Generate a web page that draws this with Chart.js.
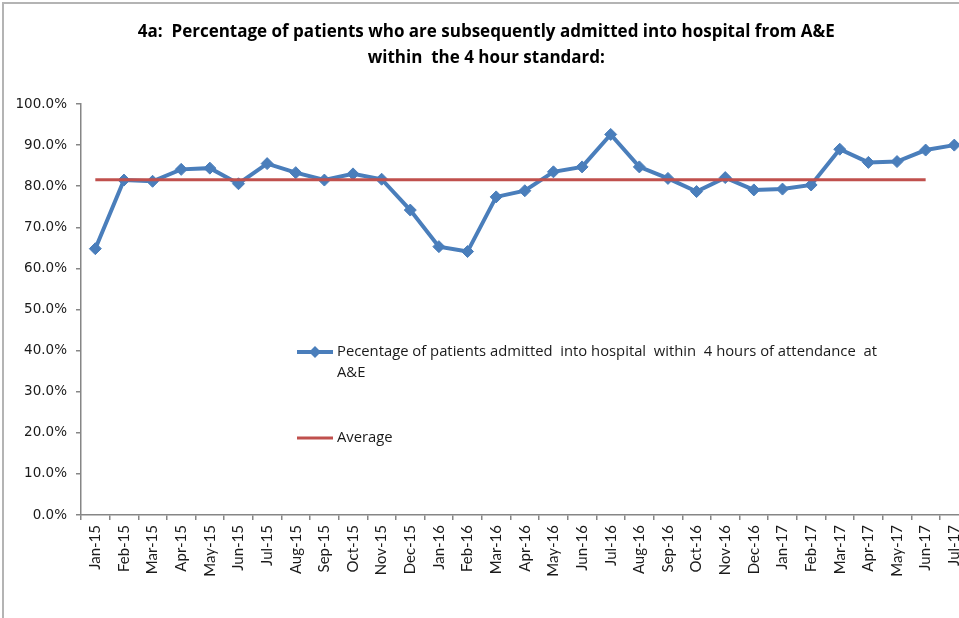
<!DOCTYPE html>
<html lang="en">
<head>
    <meta charset="UTF-8">
    <title>4a: Percentage of patients admitted within 4 hours</title>
    <script src="https://cdn.jsdelivr.net/npm/chart.js"></script>
    <style>
        html, body {
            margin: 0;
            padding: 0;
            background: #ffffff;
            overflow: hidden;
        }
        /* chart frame, wider than the window so the right edge is cut like the source */
        .frame {
            position: absolute;
            left: 2px;
            top: 2px;
            width: 975px;
            height: 700px;
            border: 2px solid #b4b4b4;
        }
        .chart-box {
            position: absolute;
            left: 0;
            top: 0;
            width: 980px;
            height: 618px;
        }
    </style>
</head>
<body>
    <div class="frame"></div>
    <div class="chart-box">
        <canvas id="admitChart"></canvas>
    </div>

    <script>
        // --- data ---
        const months = [
            'Jan-15', 'Feb-15', 'Mar-15', 'Apr-15', 'May-15', 'Jun-15', 'Jul-15', 'Aug-15',
            'Sep-15', 'Oct-15', 'Nov-15', 'Dec-15', 'Jan-16', 'Feb-16', 'Mar-16', 'Apr-16',
            'May-16', 'Jun-16', 'Jul-16', 'Aug-16', 'Sep-16', 'Oct-16', 'Nov-16', 'Dec-16',
            'Jan-17', 'Feb-17', 'Mar-17', 'Apr-17', 'May-17', 'Jun-17', 'Jul-17'
        ];

        const admittedPct = [
            64.8, 81.5, 81.2, 84.1, 84.4, 80.6, 85.5, 83.3,
            81.5, 83.0, 81.7, 74.2, 65.3, 64.1, 77.4, 78.9,
            83.5, 84.7, 92.6, 84.7, 81.9, 78.7, 82.1, 79.1,
            79.3, 80.3, 89.0, 85.8, 86.0, 88.8, 90.0
        ];

        // average line stops at Jun-17
        const averagePct = [
            81.6, 81.6, 81.6, 81.6, 81.6, 81.6, 81.6, 81.6,
            81.6, 81.6, 81.6, 81.6, 81.6, 81.6, 81.6, 81.6,
            81.6, 81.6, 81.6, 81.6, 81.6, 81.6, 81.6, 81.6,
            81.6, 81.6, 81.6, 81.6, 81.6, 81.6, null
        ];

        const yTicks = [0, 10, 20, 30, 40, 50, 60, 70, 80, 90, 100];

        const titleLines = [
            '4a:  Percentage of patients who are subsequently admitted into hospital from A&E',
            'within  the 4 hour standard:'
        ];
        const admittedLegend = [
            'Pecentage of patients admitted  into hospital  within  4 hours of attendance  at',
            'A&E'
        ];
        const averageLegend = ['Average'];

        const blue = '#4a7ebb';
        const red = '#c0504d';
        const axisGrey = '#868686';
        const textFont = '"Open Sans", Lato, sans-serif';

        // legend sits inside the plot, drawn by hand
        const insideLegend = {
            id: 'insideLegend',
            afterDraw(chart) {
                const ctx = chart.ctx;
                ctx.save();
                ctx.font = '14.8px ' + textFont;
                ctx.textBaseline = 'middle';
                ctx.textAlign = 'left';

                // admitted series
                ctx.strokeStyle = blue;
                ctx.lineWidth = 4;
                ctx.beginPath();
                ctx.moveTo(297, 352);
                ctx.lineTo(333, 352);
                ctx.stroke();
                ctx.fillStyle = blue;
                ctx.beginPath();
                ctx.moveTo(315, 346);
                ctx.lineTo(321, 352);
                ctx.lineTo(315, 358);
                ctx.lineTo(309, 352);
                ctx.closePath();
                ctx.fill();
                ctx.fillStyle = '#1a1a1a';
                admittedLegend.forEach((t, i) => ctx.fillText(t, 337, 352 + i * 21));

                // average
                ctx.strokeStyle = red;
                ctx.lineWidth = 3;
                ctx.beginPath();
                ctx.moveTo(297, 438);
                ctx.lineTo(333, 438);
                ctx.stroke();
                averageLegend.forEach((t, i) => ctx.fillText(t, 337, 438 + i * 21));
                ctx.restore();
            }
        };

        const ctx = document.getElementById('admitChart').getContext('2d');
        new Chart(ctx, {
            type: 'line',
            data: {
                labels: months,
                datasets: [
                    {
                        label: admittedLegend.join(' '),
                        data: admittedPct,
                        borderColor: blue,
                        backgroundColor: blue,
                        borderWidth: 4,
                        pointStyle: 'rectRot',
                        pointRadius: 6,
                        pointBorderWidth: 1,
                        pointBackgroundColor: blue,
                        pointBorderColor: blue,
                        tension: 0,
                        order: 1
                    },
                    {
                        label: 'Average',
                        data: averagePct,
                        borderColor: red,
                        backgroundColor: red,
                        borderWidth: 3,
                        pointRadius: 0,
                        tension: 0,
                        spanGaps: false,
                        order: 0
                    }
                ]
            },
            options: {
                responsive: true,
                maintainAspectRatio: false,
                animation: false,
                layout: {
                    padding: { left: 4, right: 11.4, top: 0, bottom: 0 }
                },
                plugins: {
                    legend: { display: false },
                    tooltip: { enabled: false },
                    title: {
                        display: true,
                        text: titleLines,
                        color: '#000000',
                        font: { family: textFont, size: 17, weight: 'bold', lineHeight: 1.53 },
                        padding: { top: 19, bottom: 33 }
                    }
                },
                scales: {
                    x: {
                        type: 'category',
                        offset: true,
                        afterFit: s => { s.height = 103; },
                        grid: {
                            display: true,
                            offset: true,
                            drawOnChartArea: false,
                            drawTicks: true,
                            tickLength: 5,
                            color: axisGrey,
                            lineWidth: 1.5
                        },
                        border: { display: true, color: axisGrey, width: 1.5 },
                        ticks: {
                            autoSkip: false,
                            maxRotation: 90,
                            minRotation: 90,
                            padding: 5,
                            color: '#1a1a1a',
                            font: { family: 'Lato, "Open Sans", sans-serif', size: 15 }
                        }
                    },
                    y: {
                        min: 0,
                        max: 100,
                        afterFit: s => { s.width = 77; },
                        afterBuildTicks: s => { s.ticks = yTicks.map(v => ({ value: v })); },
                        grid: {
                            display: true,
                            drawOnChartArea: false,
                            drawTicks: true,
                            tickLength: 5,
                            color: axisGrey,
                            lineWidth: 1.5
                        },
                        border: { display: true, color: axisGrey, width: 1.5 },
                        ticks: {
                            padding: 9,
                            color: '#1a1a1a',
                            font: { family: '"DejaVu Sans", Verdana, sans-serif', size: 13.5 },
                            callback: v => v.toFixed(1) + '%'
                        }
                    }
                }
            },
            plugins: [insideLegend]
        });
    </script>
</body>
</html>
